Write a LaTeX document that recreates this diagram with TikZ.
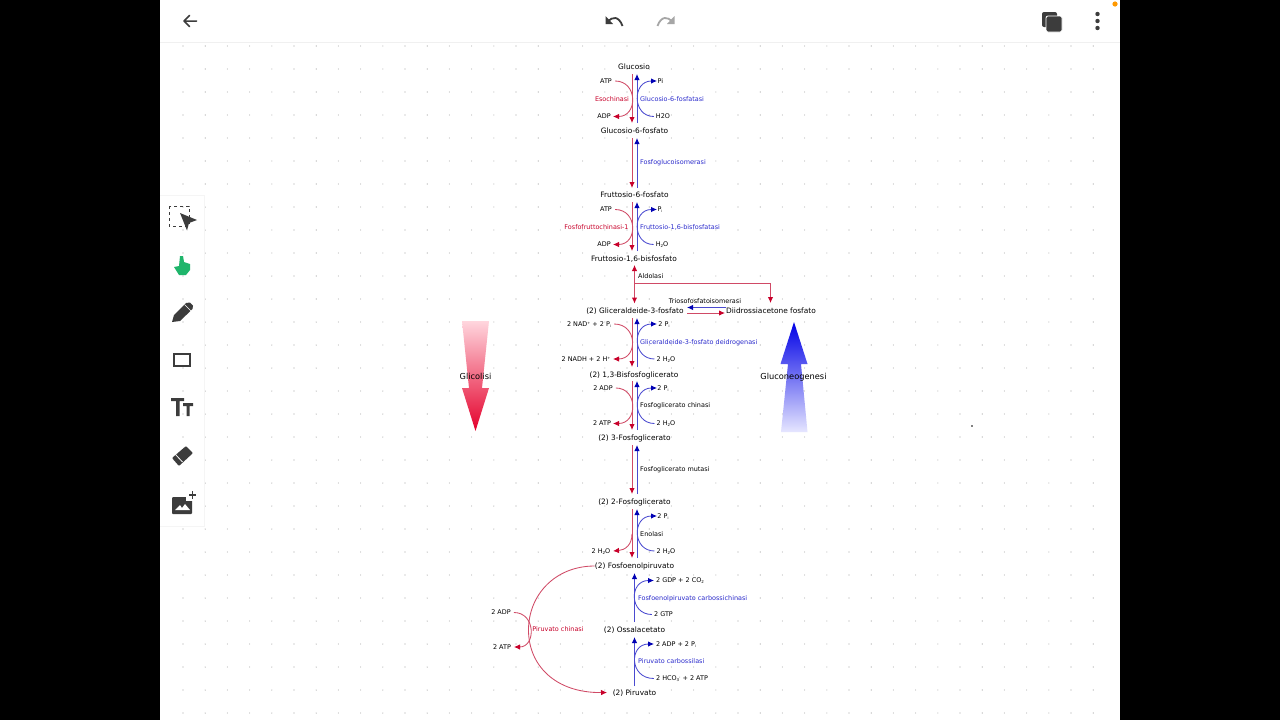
\documentclass[tikz,border=0pt]{standalone}
\usepackage{fontspec}
\setmainfont{DejaVu Sans}
\usetikzlibrary{arrows.meta,calc}
\definecolor{rd}{HTML}{C8002A}
\definecolor{rdl}{HTML}{D04A66}
\definecolor{bl}{HTML}{0000B4}
\definecolor{bll}{HTML}{4A4AD0}
\definecolor{enzblue}{HTML}{2A2ACC}
\definecolor{bigred}{HTML}{E4002B}
\definecolor{bigpink}{HTML}{FFD6DE}
\definecolor{bigblue}{HTML}{0000E6}
\definecolor{bigpale}{HTML}{E6E6FF}
\definecolor{ic}{HTML}{3C3C3C}
\definecolor{hand}{HTML}{1FB56B}
\newcommand{\subi}{\raisebox{-1pt}{\fontsize{3.5}{4}\selectfont i}}
\newcommand{\subn}[1]{\raisebox{-1pt}{\fontsize{4}{4}\selectfont #1}}
\newcommand{\supn}[1]{\raisebox{2pt}{\fontsize{3.5}{4}\selectfont #1}}
\tikzset{x=1pt,y=-1pt,
 tx/.style={font=\fontsize{6.45}{7}\selectfont,text=black,inner sep=0pt,anchor=center,text height=4.9pt,text depth=0pt},
 met/.style={font=\fontsize{7.42}{8}\selectfont,text=black,inner sep=0pt,anchor=center,text height=5.4pt,text depth=0pt},
 big/.style={font=\fontsize{8.25}{9}\selectfont,text=black,inner sep=0pt,anchor=center,text height=6pt,text depth=0pt},
 enzr/.style={tx,text=rd},enzb/.style={tx,text=enzblue},enzk/.style={tx},
 rarr/.style={draw=rdl,line width=1pt,-{Latex[length=6pt,width=5.5pt,color=rd]}},
 barr/.style={draw=bll,line width=1pt,-{Latex[length=6pt,width=5.5pt,color=bl]}},
 rarc/.style={draw=rdl,line width=.85pt,-{Latex[length=6pt,width=5.5pt,color=rd]}},
 barc/.style={draw=bll,line width=.85pt,-{Latex[length=6pt,width=5.5pt,color=bl]}},
 rcur/.style={draw=rdl,line width=.85pt}}
\begin{document}
\begin{tikzpicture}
\useasboundingbox (0,0) rectangle (1280,720);
\fill[black] (0,0) rectangle (1280,720);
\fill[white] (160,0) rectangle (1120,720);
\foreach \i in {0,...,41}{\foreach \j in {0,...,29}{\fill[black!35] ({183+\i*22.2},{46+\j*23}) circle (.55);}}
\draw[black!6,line width=1pt] (160,42.5) -- (1120,42.5);
% big arrows
\shade[top color=bigpink,bottom color=bigred,draw=none]
 (462,321) -- (489,321) -- (482,388) -- (489,388) -- (475.5,431) -- (462,388) -- (469,388) -- cycle;
\node[big] (gli) at (475.5,376.5) {Glicolisi};
\shade[bottom color=bigpale,top color=bigblue,draw=none]
 (781,432) -- (807.5,432) -- (801,364) -- (807.5,364) -- (794,322) -- (780.5,364) -- (788,364) -- cycle;
\node[big] (gng) at (793.5,376.5) {Gluconeogenesi};
\fill[black] (972,426) circle (.8);
% metabolites
\node[met] (glc) at (634,67) {Glucosio};
\node[met] (g6p) at (634.5,131) {Glucosio-6-fosfato};
\node[met] (f6p) at (634.5,195) {Fruttosio-6-fosfato};
\node[met] (fbp) at (634,259) {Fruttosio-1,6-bisfosfato};
\node[met] (gap) at (635,311) {(2) Gliceraldeide-3-fosfato};
\node[met] (dhap) at (771,311) {Diidrossiacetone fosfato};
\node[met] (bpg) at (634,375) {(2) 1,3-Bisfosfoglicerato};
\node[met] (p3g) at (634.5,438) {(2) 3-Fosfoglicerato};
\node[met] (p2g) at (634.5,502) {(2) 2-Fosfoglicerato};
\node[met] (pep) at (634.5,566) {(2) Fosfoenolpiruvato};
\node[met] (oaa) at (634.5,630) {(2) Ossalacetato};
\node[met] (pyr) at (634.5,693) {(2) Piruvato};
% step 1
\node[tx] (a1) at (606,81) {ATP};
\node[tx] (d1) at (604,116.5) {ADP};
\node[tx] (p1) at (660.5,81) {Pi};
\node[tx] (w1) at (663,116.5) {H2O};
\node[enzr] (e1) at (612,99) {Esochinasi};
\node[enzb,anchor=west] (b1) at (640,99) {Glucosio-6-fosfatasi};
\draw[rarr] (632,74) -- (632,123);
\draw[barr] (637,123) -- (637,74);
\draw[rarc] (a1.east)++(3,0) .. controls (638,81) and (638,116.5) .. (613,116.5);
\draw[barc] (w1.west)++(-2,0) .. controls (632,116.5) and (632,81) .. (657,81);
% step 2
\node[enzb,anchor=west] (b2) at (640,162.5) {Fosfoglucoisomerasi};
\draw[rarr] (632,138) -- (632,188);
\draw[barr] (637,188) -- (637,138);
% step 3
\node[tx] (a3) at (606,209.5) {ATP};
\node[tx] (d3) at (604,244.5) {ADP};
\node[tx] (p3) at (660,209.5) {P\subi};
\node[tx] (w3) at (662,244.5) {H\subn{2}O};
\node[enzr] (e3) at (596.5,227) {Fosfofruttochinasi-1};
\node[enzb,anchor=west] (b3) at (640,227) {Fruttosio-1,6-bisfosfatasi};
\draw[rarr] (632,202) -- (632,251);
\draw[barr] (637,251) -- (637,202);
\draw[rarc] (a3.east)++(3,0) .. controls (638,209.5) and (638,244.5) .. (613,244.5);
\draw[barc] (w3.west)++(-2,0) .. controls (632,244.5) and (632,209.5) .. (657,209.5);
% aldolase
\node[tx,anchor=west] (ald) at (638,276.5) {Aldolasi};
\coordinate (jn) at (634.5,283);
\coordinate (jc) at (770.5,283);
\draw[rarr] (jn) -- (634.5,265);
\draw[rarr] (jn) -- (634.5,303.5);
\draw[rarr] (jn) -- (jc) -- (770.5,303);
% isomerase
\node[tx] (tpi) at (705,301) {Triosofosfatoisomerasi};
\draw[barr] (726,307.5) -- (687,307.5);
\draw[rarr] (687,313) -- (725,313);
% step GAPDH
\node[tx] (a5) at (589,324) {2 NAD\supn{+} + 2 P\subi};
\node[tx] (d5) at (586,359) {2 NADH + 2 H\supn{+}};
\node[tx] (p5) at (664,324) {2 P\subi};
\node[tx] (w5) at (666,359) {2 H\subn{2}O};
\node[enzb,anchor=west] (b5) at (640,342) {Gliceraldeide-3-fosfato deidrogenasi};
\draw[rarr] (632,318) -- (632,367);
\draw[barr] (637,367) -- (637,318);
\draw[rarc] (a5.east)++(3,0) .. controls (638,324) and (638,359) .. (613,359);
\draw[barc] (w5.west)++(-2,0) .. controls (632,359) and (632,324) .. (657,324);
% PGK
\node[tx] (a6) at (603,388) {2 ADP};
\node[tx] (d6) at (602,423.5) {2 ATP};
\node[tx] (p6) at (663,388) {2 P\subi};
\node[tx] (w6) at (666,423.5) {2 H\subn{2}O};
\node[enzk,anchor=west] (b6) at (640,405.5) {Fosfoglicerato chinasi};
\draw[rarr] (632,381) -- (632,430);
\draw[barr] (637,430) -- (637,381);
\draw[rarc] (a6.east)++(3,0) .. controls (638,388) and (638,423.5) .. (613,423.5);
\draw[barc] (w6.west)++(-2,0) .. controls (632,423.5) and (632,388) .. (657,388);
% mutase
\node[enzk,anchor=west] (b7) at (640,469) {Fosfoglicerato mutasi};
\draw[rarr] (632,445) -- (632,494);
\draw[barr] (637,494) -- (637,445);
% enolase
\node[tx] (p8) at (663,516) {2 P\subi};
\node[tx] (w8) at (666,551) {2 H\subn{2}O};
\node[tx] (d8) at (601,551) {2 H\subn{2}O};
\node[enzk,anchor=west] (b8) at (640,534) {Enolasi};
\draw[rarr] (632,509) -- (632,558);
\draw[barr] (637,558) -- (637,509);
\draw[rarc] (632,534) .. controls (632,545) and (625,550) .. (613,551);
\draw[barc] (w8.west)++(-2,0) .. controls (632,551) and (632,516) .. (657,516);
% PEPCK
\node[tx] (p9) at (680,580.5) {2 GDP + 2 CO\subn{2}};
\node[tx] (w9) at (663.5,614.5) {2 GTP};
\node[enzb,anchor=west] (b9) at (638,598) {Fosfoenolpiruvato carbossichinasi};
\draw[barr] (634.5,622) -- (634.5,573);
\draw[barc] (w9.west)++(-2,0) .. controls (629,614.5) and (629,580.5) .. (654,580.5);
% PC
\node[tx] (p10) at (676,644) {2 ADP + 2 P\subi};
\node[tx] (w10) at (682,678.5) {2 HCO\subn{3}\supn{-} + 2 ATP};
\node[enzb,anchor=west] (b10) at (638,661.5) {Piruvato carbossilasi};
\draw[barr] (634.5,686) -- (634.5,637);
\draw[barc] (w10.west)++(-2,0) .. controls (629,678.5) and (629,644) .. (654,644);
% pyruvate kinase
\node[tx] (a11) at (501,612.5) {2 ADP};
\node[tx] (d11) at (502,647) {2 ATP};
\node[enzr] (e11) at (558,629.5) {Piruvato chinasi};
\coordinate (pkm) at (528.5,630);
\draw[rcur] (pep.west) .. controls (555,566) and (528.5,595) .. (pkm);
\draw[rarc] (pkm) .. controls (528.5,665) and (555,693) .. (607,692.5);
\draw[rarc] (a11.east)++(3,0) .. controls (536,612.5) and (536,647) .. (514,647);
% top bar icons
\draw[ic,line width=1.5pt,line cap=round,line join=round] (196.5,21) -- (184,21) (189.5,15.5) -- (184,21) -- (189.5,26.5);
\draw[ic,line width=1.8pt] (608,22) .. controls (612,16) and (619,16) .. (622.5,26);
\fill[ic] (605.5,16) -- (605.5,24) -- (613,24) -- cycle;
\draw[black!35,line width=1.8pt] (672,22) .. controls (668,16) and (661,16) .. (657.5,26);
\fill[black!35] (674.5,16) -- (674.5,24) -- (667,24) -- cycle;
\fill[ic,rounded corners=2pt] (1042,12) rectangle (1057,27);
\fill[ic,rounded corners=2pt,draw=white,line width=.8pt] (1046,16) rectangle (1062,32);
\foreach \y in {14,21,28}{\fill[ic] (1097.5,\y) circle (2.2);}
\fill[orange!80!yellow] (1115,4) circle (2.6);
% side panel
\draw[black!4,line width=.8pt] (160,195) -- (204,195) -- (204,526) -- (160,526);
\draw[ic,dashed,line width=.9pt] (169,206) rectangle (189,226);
\fill[ic] (180,213) -- (197,220) -- (189,223) -- (187,230.5) -- cycle;
\fill[hand] (180,256) -- (183,256) -- (184,262) -- (190,264) -- (190,270) -- (186,275) -- (179,275) -- (174,267) -- (179,266) -- cycle;
\fill[ic] (172,322) -- (174,315) -- (186,303) -- (190,302.5) -- (193,305.5) -- (192.5,309) -- (180,321) -- cycle;
\draw[white,line width=.7pt] (184.5,304.5) -- (191,311);
\draw[ic,line width=1.3pt] (174,354) rectangle (190,366);
\fill[ic] (171,398) rectangle (184,401) (176,398) rectangle (179.5,416);
\fill[ic] (183,403) rectangle (193,406) (186.5,403) rectangle (189.5,416);
\fill[ic,rounded corners=1pt] (172,458) -- (186,446) -- (193,453) -- (179,466) -- cycle;
\draw[white,line width=.8pt] (175.5,454.5) -- (182.5,462);
\fill[ic,rounded corners=1pt] (172,497) rectangle (192,514);
\fill[white] (175,510) -- (180,505) -- (182,508) -- (185,504) -- (190,510) -- cycle;
\fill[white] (186,489) rectangle (198,501);
\draw[ic,line width=1.5pt] (189,495) -- (196,495) (192.5,491) -- (192.5,499);
\end{tikzpicture}
\end{document}
